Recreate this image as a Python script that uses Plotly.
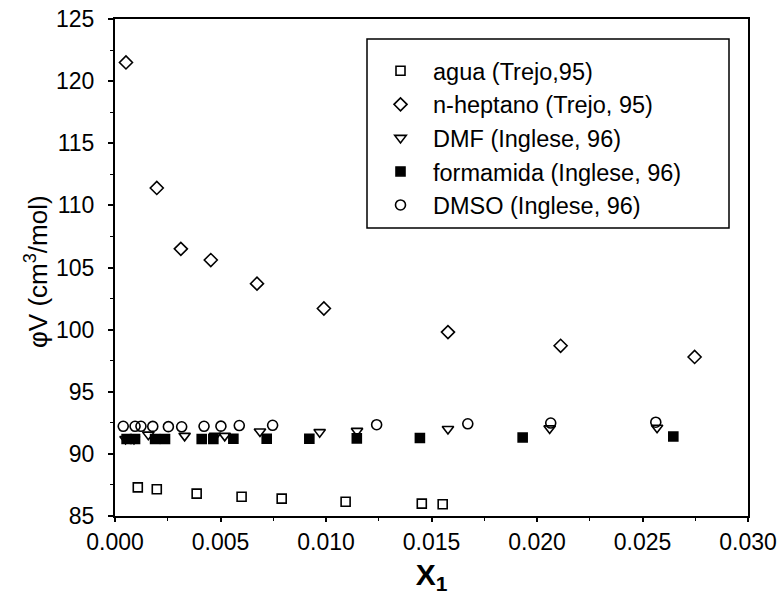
import plotly.graph_objects as go

# Apparent molar volume vs mole fraction for several solvents
agua_x = [0.00108, 0.00198, 0.00387, 0.0060, 0.0079, 0.01093, 0.01454, 0.01553]
agua_y = [87.3, 87.15, 86.8, 86.55, 86.4, 86.15, 86.0, 85.95]

hept_x = [0.00052, 0.00198, 0.00312, 0.00454, 0.00673, 0.0099, 0.01578, 0.02112, 0.02747]
hept_y = [121.5, 111.4, 106.5, 105.6, 103.7, 101.7, 99.8, 98.7, 97.8]

dmf_x = [0.0005, 0.0009, 0.00158, 0.0033, 0.00474, 0.0052, 0.00687, 0.0097, 0.01147, 0.01578, 0.0206, 0.02569]
dmf_y = [91.2, 91.2, 91.55, 91.45, 91.45, 91.45, 91.8, 91.75, 91.85, 92.0, 92.05, 92.1]

form_x = [0.00055, 0.00095, 0.0019, 0.00237, 0.00411, 0.00466, 0.00561, 0.00719, 0.00921,
          0.01146, 0.01445, 0.01932, 0.02646]
form_y = [91.2, 91.2, 91.2, 91.2, 91.2, 91.2, 91.22, 91.22, 91.22, 91.25, 91.28, 91.32, 91.4]

dmso_x = [0.00039, 0.00095, 0.00123, 0.00179, 0.00253, 0.00316, 0.00422, 0.00502, 0.00589,
          0.00747, 0.0124, 0.01672, 0.02065, 0.02563]
dmso_y = [92.22, 92.22, 92.22, 92.21, 92.19, 92.18, 92.22, 92.23, 92.28,
          92.3, 92.35, 92.42, 92.48, 92.55]

series = [
    ("agua (Trejo,95)", agua_x, agua_y, "square-open", 9),
    ("n-heptano (Trejo, 95)", hept_x, hept_y, "diamond-open", 10),
    ("DMF (Inglese, 96)", dmf_x, dmf_y, "triangle-down-open", 10),
    ("formamida (Inglese, 96)", form_x, form_y, "square", 9),
    ("DMSO (Inglese, 96)", dmso_x, dmso_y, "circle-open", 10),
]

fig = go.Figure()
for name, xs, ys, sym, sz in series:
    fig.add_trace(go.Scatter(
        x=xs, y=ys, mode="markers", name=name,
        marker=dict(symbol=sym, size=sz, color="black",
                    line=dict(color="black", width=1.6)),
    ))

font = "Liberation Sans, Arial, sans-serif"
axis_common = dict(
    showline=True, linecolor="black", linewidth=2, mirror=True,
    ticks="outside", tickwidth=1.5, tickcolor="black",
    showgrid=False, zeroline=False, automargin=False,
    tickfont=dict(family=font, size=23, color="black"),
)

fig.update_xaxes(
    range=[0, 0.030], dtick=0.005, tickformat=".3f", ticklen=4,
    minor=dict(dtick=0.0025, ticks="outside", ticklen=3, tickcolor="black", tickwidth=1.2),
    title=dict(text="<b>X<sub>1</sub></b>", font=dict(family=font, size=30, color="black"),
               standoff=10),
    **axis_common,
)
fig.update_yaxes(
    range=[85, 125], dtick=5, ticklen=5, ticklabelstandoff=9,
    minor=dict(dtick=2.5, ticks="outside", ticklen=3, tickcolor="black", tickwidth=1.2),
    **axis_common,
)

# y-axis title placed as rotated text beside the tick labels
fig.add_annotation(
    text="φV (cm<sup>3</sup>/mol)", textangle=-90, showarrow=False,
    xref="paper", yref="paper", x=(36 - 115) / 633, y=(516 - 272) / 497,
    xanchor="center", yanchor="middle",
    font=dict(family=font, size=26, color="black"),
)

# Legend frame drawn as a paper-anchored rectangle around the entries
fig.add_shape(type="rect", xref="paper", yref="paper",
              x0=(367 - 115) / 633, x1=(729 - 115) / 633,
              y0=(516 - 228) / 497, y1=(516 - 39) / 497,
              line=dict(color="black", width=1.5), fillcolor="white", layer="below")

fig.update_layout(
    width=779, height=600,
    margin=dict(l=115, r=31, t=19, b=84),
    paper_bgcolor="white", plot_bgcolor="white",
    showlegend=True,
    legend=dict(
        x=(368 - 115) / 633, y=(516 - 49) / 497, xanchor="left", yanchor="top",
        borderwidth=0, bgcolor="rgba(0,0,0,0)",
        font=dict(family=font, size=23.5, color="black"),
        itemwidth=55,
    ),
)

fig.write_html("out.html")
